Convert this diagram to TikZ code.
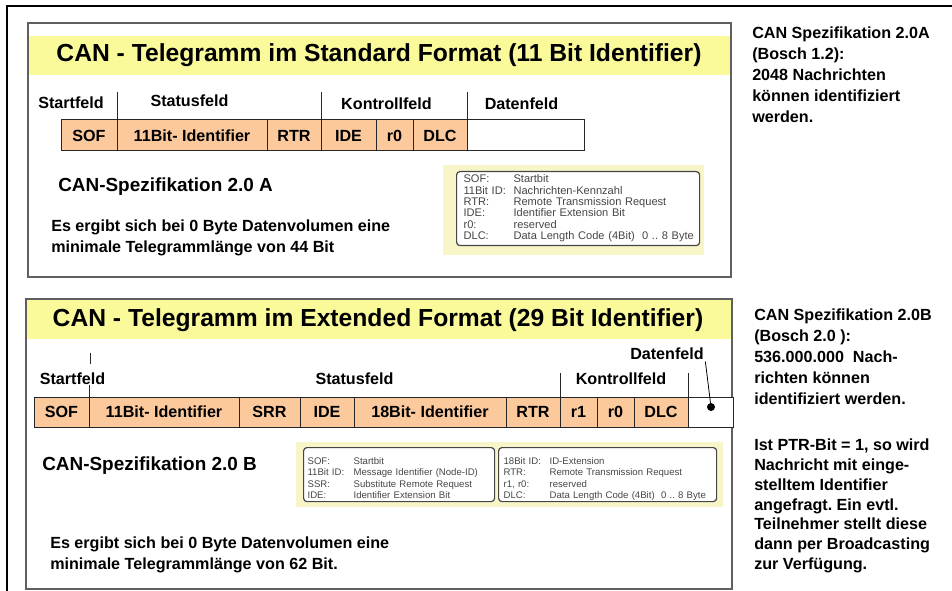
\documentclass[tikz,border=0pt]{standalone}
\usepackage{fontspec}
\setmainfont{Liberation Sans}
\usetikzlibrary{positioning}
\frenchspacing
\definecolor{titleyellow}{RGB}{250,250,155}
\definecolor{legyellow}{RGB}{248,246,200}
\definecolor{cellorange}{RGB}{251,201,156}
\definecolor{framegray}{RGB}{95,95,95}
\definecolor{leggray}{RGB}{70,70,70}
\def\bigfont{\fontsize{18.5}{20}\selectfont\bfseries}
\def\midfont{\fontsize{14.2}{16}\selectfont\bfseries}
\def\txtfont{\fontsize{12.1}{15.75}\selectfont\bfseries}
\def\legfont{\fontsize{8.3}{8.5}\selectfont}
\def\smlegfont{\fontsize{7.2}{8.5}\selectfont}
\tikzset{
	cell/.style={draw=black!85, line width=0.75pt, fill=cellorange, minimum height=23.25pt, inner sep=0pt, outer sep=0pt, font=\txtfont},
	emptycell/.style={cell, fill=white},
	hdr/.style={inner sep=1pt, font=\txtfont},
	sepline/.style={line width=0.6pt, black!85},
	txt/.style={inner sep=0pt, align=left, anchor=north west, font=\txtfont},
	legbox/.style={draw=leggray, line width=0.9pt, fill=white, rounded corners=2.5pt, anchor=north west, inner ysep=0pt, text=leggray, font=\legfont},
	boxframe/.style={draw=framegray, line width=1.1pt}
}
\begin{document}
\begin{tikzpicture}[x=0.75pt, y=-0.75pt]
			%%%%% START %%%%%
			\useasboundingbox (0,0) rectangle (952,591);
			\draw[line width=1.5pt] (7,600) |- (960,6);
			
			%%%%% standard format
			\fill[titleyellow] (29,36) rectangle (730,75);
			\draw[boxframe] (28,23) rectangle (731,277);
			\node[font=\bigfont] (titleA) at (379,55) {CAN - Telegramm im Standard Format (11 Bit Identifier)};
			
			\node[cell, minimum width=42pt, anchor=north west] (sofA) at (61,120) {SOF};
			\node[cell, minimum width=112.5pt, right=0pt of sofA] (idA) {11Bit- Identifier};
			\node[cell, minimum width=40.5pt, right=0pt of idA] (rtrA) {RTR};
			\node[cell, minimum width=41.25pt, right=0pt of rtrA] (ideA) {IDE};
			\node[cell, minimum width=27.75pt, right=0pt of ideA] (rzA) {r0};
			\node[cell, minimum width=40.5pt, right=0pt of rzA] (dlcA) {DLC};
			\node[emptycell, minimum width=87.75pt, right=0pt of dlcA] (datA) {};
			
			\draw[sepline] (idA.north west) -- ++(0,-28);
			\draw[sepline] (ideA.north west) -- ++(0,-28);
			\draw[sepline] (datA.north west) -- ++(0,-28);
			\node[hdr] (hStartA) at (71,103) {Startfeld};
			\node[hdr] (hStatusA) at (189.5,101) {Statusfeld};
			\node[hdr] (hKontrA) at (386.5,104) {Kontrollfeld};
			\node[hdr] (hDatenA) at (521.5,104) {Datenfeld};
			
			\node[font=\midfont, anchor=west, inner sep=0pt] (specA) at (58,187) {CAN-Spezifikation 2.0 A};
			\node[txt] (minA) at (51,220) {Es ergibt sich bei 0 Byte Datenvolumen eine\\minimale Telegrammlänge von 44 Bit};
			
			\fill[legyellow] (443,165) rectangle (704,255);
			\node[legbox, text height=8.25pt, text depth=47.25pt, inner xsep=5.25pt, text width=171.75pt] (legA) at (456,171)
				{\begin{tabular}[t]{@{}p{37.5pt}@{}l@{}}
					SOF: & Startbit\\
					11Bit ID: & Nachrichten-Kennzahl\\
					RTR: & Remote Transmission Request\\
					IDE: & Identifier Extension Bit\\
					r0: & reserved\\
					DLC: & Data Length Code (4Bit)\ \ 0 .. 8 Byte
				\end{tabular}};
			
			\node[txt, font=\fontsize{12.1}{15.6}\selectfont\bfseries] (noteA) at (752,27) {CAN Spezifikation 2.0A\\(Bosch 1.2):\\2048 Nachrichten\\können identifiziert\\werden.};
			
			%%%%% extended format
			\fill[titleyellow] (27,299) rectangle (731,339);
			\draw[boxframe] (26,299) rectangle (732,589);
			\node[font=\bigfont] (titleB) at (378,320) {CAN - Telegramm im Extended Format (29 Bit Identifier)};
			
			\node[cell, minimum width=41.25pt, minimum height=22.5pt, anchor=north west] (sofB) at (34,397) {SOF};
			\node[cell, minimum width=112.5pt, minimum height=22.5pt, right=0pt of sofB] (idB) {11Bit- Identifier};
			\node[cell, minimum width=45.75pt, minimum height=22.5pt, right=0pt of idB] (srrB) {SRR};
			\node[cell, minimum width=40.5pt, minimum height=22.5pt, right=0pt of srrB] (ideB) {IDE};
			\node[cell, minimum width=114pt, minimum height=22.5pt, right=0pt of ideB] (extB) {18Bit- Identifier};
			\node[cell, minimum width=40.5pt, minimum height=22.5pt, right=0pt of extB] (rtrB) {RTR};
			\node[cell, minimum width=27.75pt, minimum height=22.5pt, right=0pt of rtrB] (roB) {r1};
			\node[cell, minimum width=27.75pt, minimum height=22.5pt, right=0pt of roB] (rzB) {r0};
			\node[cell, minimum width=40.5pt, minimum height=22.5pt, right=0pt of rzB] (dlcB) {DLC};
			\node[emptycell, minimum width=33.75pt, minimum height=22.5pt, right=0pt of dlcB] (datB) {};
			
			\draw[sepline] (90,353) -- (90,364);
			\draw[sepline] (idB.north west) -- ++(0,-12);
			\draw[sepline] (roB.north west) -- ++(0,-24);
			\draw[sepline] (datB.north west) -- ++(0,-24);
			\node[hdr] (hStartB) at (72.5,379) {Startfeld};
			\node[hdr] (hStatusB) at (354.5,379) {Statusfeld};
			\node[hdr] (hKontrB) at (621,379) {Kontrollfeld};
			\node[hdr] (hDatenB) at (667,354) {Datenfeld};
			\node[circle, fill=black, inner sep=0pt, minimum size=6pt] (dotB) at (711,407) {};
			\draw[line width=0.6pt] (hDatenB.south east) -- (dotB);
			
			\node[font=\midfont, anchor=west, inner sep=0pt] (specB) at (42,466) {CAN-Spezifikation 2.0 B};
			\node[txt] (minB) at (50,537) {Es ergibt sich bei 0 Byte Datenvolumen eine\\minimale Telegrammlänge von 62 Bit.};
			
			\fill[legyellow] (296,442) rectangle (723,507);
			\node[legbox, font=\smlegfont, text height=12.75pt, text depth=27.75pt, inner xsep=3pt, text width=137.25pt] (legB) at (303,447)
				{\begin{tabular}[t]{@{}p{34.5pt}@{}l@{}}
					SOF: & Startbit\\
					11Bit ID: & Message Identifier (Node-ID)\\
					SSR: & Substitute Remote Request\\
					IDE: & Identifier Extension Bit
				\end{tabular}};
			\node[legbox, font=\smlegfont, text height=12.75pt, text depth=27.75pt, inner xsep=3.75pt, text width=156pt] (legC) at (498,447)
				{\begin{tabular}[t]{@{}p{34.5pt}@{}l@{}}
					18Bit ID: & ID-Extension\\
					RTR: & Remote Transmission Request\\
					r1, r0: & reserved\\
					DLC: & Data Length Code (4Bit)\ \ 0 .. 8 Byte
				\end{tabular}};
			
			\node[txt] (noteB) at (754,309) {CAN Spezifikation 2.0B\\(Bosch 2.0 ):\\536.000.000\ \ Nach-\\richten können\\identifiziert werden.};
			\node[txt, font=\fontsize{12.1}{14.8}\selectfont\bfseries] (noteC) at (754,439) {Ist PTR-Bit = 1, so wird\\Nachricht mit einge-\\stelltem Identifier\\angefragt. Ein evtl.\\Teilnehmer stellt diese\\dann per Broadcasting\\zur Verfügung.};
			%%%%% END %%%%%
\end{tikzpicture}
\end{document}
